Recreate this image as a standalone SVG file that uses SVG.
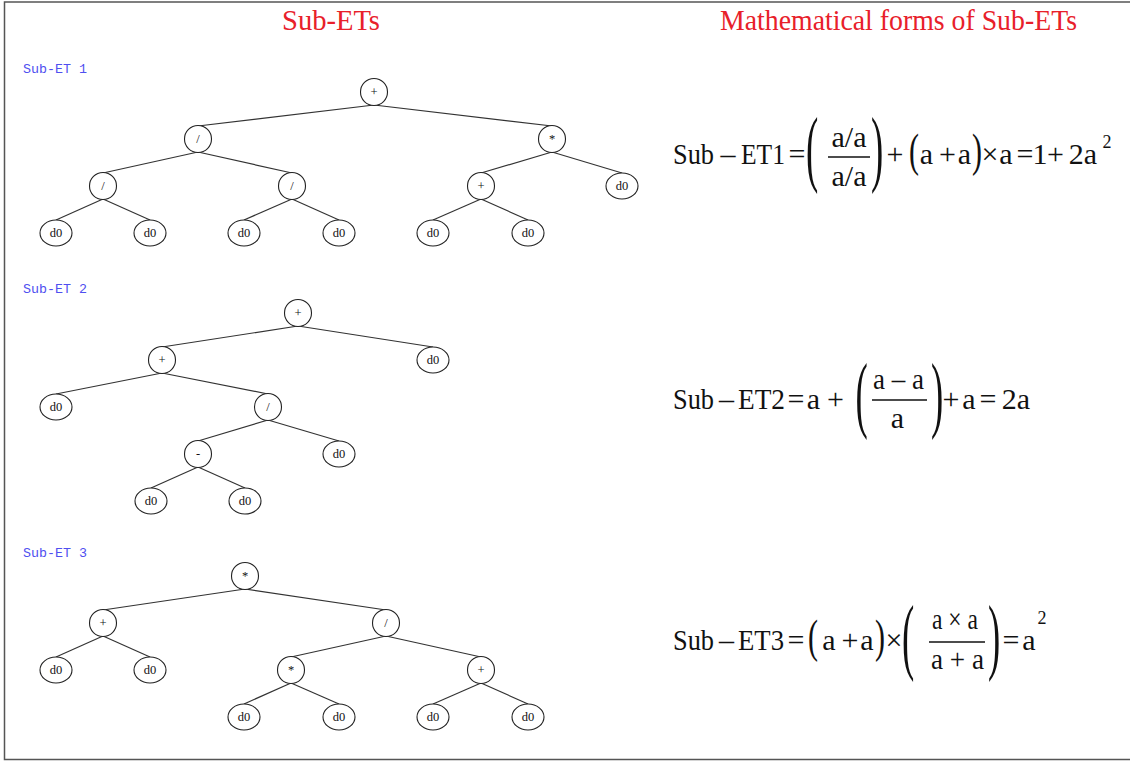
<svg xmlns="http://www.w3.org/2000/svg" width="1130" height="763" viewBox="0 0 1130 763">
<style>
.title{font-family:"Liberation Serif","Times New Roman",serif;font-size:29px;fill:#e8202a}
.lbl{font-family:"Liberation Mono","Courier New",monospace;font-size:12px;fill:#4f4ff0}
.op{fill:#fff;stroke:#222;stroke-width:1.1}
.nt{font-family:"Liberation Serif","Times New Roman",serif;font-size:12.5px;fill:#111;text-anchor:middle}
.edge{stroke:#333;stroke-width:1.2;fill:none}
.m{font-family:"Liberation Serif","Times New Roman",serif;font-size:30px;fill:#111}
.c{text-anchor:middle}
.sup{font-family:"Liberation Serif","Times New Roman",serif;font-size:18px;fill:#111;text-anchor:middle}
.bp{font-family:"Liberation Serif","Times New Roman",serif;font-size:32px;fill:#111;text-anchor:middle}
.bar{stroke:#111;stroke-width:1.3}
</style>
<path d="M1131,2 H4.5 V759.5 H1131" fill="none" stroke="#555" stroke-width="1.5"/>
<text class="title" x="282" y="30" textLength="98" lengthAdjust="spacingAndGlyphs">Sub-ETs</text>
<text class="title" x="720" y="30" textLength="357" lengthAdjust="spacingAndGlyphs">Mathematical forms of Sub-ETs</text>
<text class="lbl" x="23" y="73" textLength="64" lengthAdjust="spacingAndGlyphs">Sub-ET 1</text>
<text class="lbl" x="23" y="293" textLength="64" lengthAdjust="spacingAndGlyphs">Sub-ET 2</text>
<text class="lbl" x="23" y="557" textLength="64" lengthAdjust="spacingAndGlyphs">Sub-ET 3</text>
<g id="connectors" class="edge">
<line x1="374" y1="105" x2="198" y2="126"/><line x1="374" y1="105" x2="552" y2="126"/>
<line x1="198" y1="152" x2="103" y2="173"/><line x1="198" y1="152" x2="292" y2="173"/>
<line x1="552" y1="152" x2="481" y2="173"/><line x1="552" y1="152" x2="622" y2="173"/>
<line x1="103" y1="199" x2="56" y2="220"/><line x1="103" y1="199" x2="150" y2="220"/>
<line x1="292" y1="199" x2="244" y2="220"/><line x1="292" y1="199" x2="339" y2="220"/>
<line x1="481" y1="199" x2="433" y2="220"/><line x1="481" y1="199" x2="528" y2="220"/>
<line x1="298" y1="326" x2="162" y2="347"/><line x1="298" y1="326" x2="433" y2="347"/>
<line x1="162" y1="373" x2="56" y2="394"/><line x1="162" y1="373" x2="268" y2="394"/>
<line x1="268" y1="420" x2="198" y2="441"/><line x1="268" y1="420" x2="339" y2="441"/>
<line x1="198" y1="467" x2="151" y2="488"/><line x1="198" y1="467" x2="245" y2="488"/>
<line x1="245" y1="589" x2="103" y2="610"/><line x1="245" y1="589" x2="386" y2="610"/>
<line x1="103" y1="636" x2="56" y2="657"/><line x1="103" y1="636" x2="150" y2="657"/>
<line x1="386" y1="636" x2="291" y2="657"/><line x1="386" y1="636" x2="481" y2="657"/>
<line x1="291" y1="683" x2="244" y2="704"/><line x1="291" y1="683" x2="339" y2="704"/>
<line x1="481" y1="683" x2="433" y2="704"/><line x1="481" y1="683" x2="528" y2="704"/>
</g>
<g id="t1n0"><ellipse class="op" cx="374" cy="92" rx="13.5" ry="13.5"/><text class="nt" x="374" y="96">+</text></g>
<g id="t1n1"><ellipse class="op" cx="198" cy="139" rx="13.5" ry="13.5"/><text class="nt" x="198" y="143">/</text></g>
<g id="t1n2"><ellipse class="op" cx="552" cy="139" rx="13.5" ry="13.5"/><text class="nt" x="552" y="143">*</text></g>
<g id="t1n3"><ellipse class="op" cx="103" cy="186" rx="13.5" ry="13.5"/><text class="nt" x="103" y="190">/</text></g>
<g id="t1n4"><ellipse class="op" cx="292" cy="186" rx="13.5" ry="13.5"/><text class="nt" x="292" y="190">/</text></g>
<g id="t1n5"><ellipse class="op" cx="481" cy="186" rx="13.5" ry="13.5"/><text class="nt" x="481" y="190">+</text></g>
<g id="t1n6"><ellipse class="op" cx="622" cy="186" rx="16" ry="13"/><text class="nt" x="622" y="190">d0</text></g>
<g id="t1n7"><ellipse class="op" cx="56" cy="233" rx="16" ry="13"/><text class="nt" x="56" y="237">d0</text></g>
<g id="t1n8"><ellipse class="op" cx="150" cy="233" rx="16" ry="13"/><text class="nt" x="150" y="237">d0</text></g>
<g id="t1n9"><ellipse class="op" cx="244" cy="233" rx="16" ry="13"/><text class="nt" x="244" y="237">d0</text></g>
<g id="t1n10"><ellipse class="op" cx="339" cy="233" rx="16" ry="13"/><text class="nt" x="339" y="237">d0</text></g>
<g id="t1n11"><ellipse class="op" cx="433" cy="233" rx="16" ry="13"/><text class="nt" x="433" y="237">d0</text></g>
<g id="t1n12"><ellipse class="op" cx="528" cy="233" rx="16" ry="13"/><text class="nt" x="528" y="237">d0</text></g>
<g id="t2n0"><ellipse class="op" cx="298" cy="313" rx="13.5" ry="13.5"/><text class="nt" x="298" y="317">+</text></g>
<g id="t2n1"><ellipse class="op" cx="162" cy="360" rx="13.5" ry="13.5"/><text class="nt" x="162" y="364">+</text></g>
<g id="t2n2"><ellipse class="op" cx="433" cy="360" rx="16" ry="13"/><text class="nt" x="433" y="364">d0</text></g>
<g id="t2n3"><ellipse class="op" cx="56" cy="407" rx="16" ry="13"/><text class="nt" x="56" y="411">d0</text></g>
<g id="t2n4"><ellipse class="op" cx="268" cy="407" rx="13.5" ry="13.5"/><text class="nt" x="268" y="411">/</text></g>
<g id="t2n5"><ellipse class="op" cx="198" cy="454" rx="13.5" ry="13.5"/><text class="nt" x="198" y="458">-</text></g>
<g id="t2n6"><ellipse class="op" cx="339" cy="454" rx="16" ry="13"/><text class="nt" x="339" y="458">d0</text></g>
<g id="t2n7"><ellipse class="op" cx="151" cy="501" rx="16" ry="13"/><text class="nt" x="151" y="505">d0</text></g>
<g id="t2n8"><ellipse class="op" cx="245" cy="501" rx="16" ry="13"/><text class="nt" x="245" y="505">d0</text></g>
<g id="t3n0"><ellipse class="op" cx="245" cy="576" rx="13.5" ry="13.5"/><text class="nt" x="245" y="580">*</text></g>
<g id="t3n1"><ellipse class="op" cx="103" cy="623" rx="13.5" ry="13.5"/><text class="nt" x="103" y="627">+</text></g>
<g id="t3n2"><ellipse class="op" cx="386" cy="623" rx="13.5" ry="13.5"/><text class="nt" x="386" y="627">/</text></g>
<g id="t3n3"><ellipse class="op" cx="56" cy="670" rx="16" ry="13"/><text class="nt" x="56" y="674">d0</text></g>
<g id="t3n4"><ellipse class="op" cx="150" cy="670" rx="16" ry="13"/><text class="nt" x="150" y="674">d0</text></g>
<g id="t3n5"><ellipse class="op" cx="291" cy="670" rx="13.5" ry="13.5"/><text class="nt" x="291" y="674">*</text></g>
<g id="t3n6"><ellipse class="op" cx="481" cy="670" rx="13.5" ry="13.5"/><text class="nt" x="481" y="674">+</text></g>
<g id="t3n7"><ellipse class="op" cx="244" cy="717" rx="16" ry="13"/><text class="nt" x="244" y="721">d0</text></g>
<g id="t3n8"><ellipse class="op" cx="339" cy="717" rx="16" ry="13"/><text class="nt" x="339" y="721">d0</text></g>
<g id="t3n9"><ellipse class="op" cx="433" cy="717" rx="16" ry="13"/><text class="nt" x="433" y="721">d0</text></g>
<g id="t3n10"><ellipse class="op" cx="528" cy="717" rx="16" ry="13"/><text class="nt" x="528" y="721">d0</text></g>
<g id="formula1">
<text class="m" x="673" y="164" textLength="41" lengthAdjust="spacingAndGlyphs">Sub</text>
<text class="m c" x="728" y="164">–</text>
<text class="m" x="741" y="164" textLength="44" lengthAdjust="spacingAndGlyphs">ET1</text>
<text class="m c" x="797" y="164">=</text>
<text class="bp" transform="translate(812,176.3) scale(1.15,2.65)">(</text>
<text class="m c" x="849" y="147">a/a</text>
<line class="bar" x1="828" y1="157" x2="870" y2="157"/>
<text class="m c" x="849" y="186">a/a</text>
<text class="bp" transform="translate(877,176.3) scale(1.15,2.65)">)</text>
<text class="m c" x="895" y="164">+</text>
<text class="m c" transform="translate(914,166.4) scale(1,1.55)">(</text>
<text class="m c" x="926.5" y="164">a</text>
<text class="m c" x="947.5" y="164">+</text>
<text class="m c" x="964.5" y="164">a</text>
<text class="m c" transform="translate(977,166.4) scale(1,1.55)">)</text>
<text class="m c" x="990" y="164">×</text>
<text class="m c" x="1006" y="164">a</text>
<text class="m c" x="1025" y="164">=</text>
<text class="m c" x="1040" y="164">1</text>
<text class="m c" x="1055.5" y="164">+</text>
<text class="m c" x="1083" y="164">2a</text>
<text class="sup" x="1107" y="148">2</text>
</g>
<g id="formula2">
<text class="m" x="673" y="409" textLength="41" lengthAdjust="spacingAndGlyphs">Sub</text>
<text class="m c" x="726.5" y="409">–</text>
<text class="m" x="738" y="409" textLength="47" lengthAdjust="spacingAndGlyphs">ET2</text>
<text class="m c" x="796" y="409">=</text>
<text class="m c" x="813.5" y="409">a</text>
<text class="m c" x="835.5" y="409">+</text>
<text class="bp" transform="translate(861.5,422.3) scale(1.15,2.65)">(</text>
<text class="m" x="873" y="389" textLength="51" lengthAdjust="spacingAndGlyphs">a – a</text>
<line class="bar" x1="872" y1="400" x2="927" y2="400"/>
<text class="m c" x="897.5" y="428">a</text>
<text class="bp" transform="translate(937,422.3) scale(1.15,2.65)">)</text>
<text class="m c" x="951" y="409">+</text>
<text class="m c" x="969" y="409">a</text>
<text class="m c" x="988" y="409">=</text>
<text class="m c" x="1016" y="409">2a</text>
</g>
<g id="formula3">
<text class="m" x="673" y="650" textLength="41" lengthAdjust="spacingAndGlyphs">Sub</text>
<text class="m c" x="726.5" y="650">–</text>
<text class="m" x="738" y="650" textLength="46" lengthAdjust="spacingAndGlyphs">ET3</text>
<text class="m c" x="796" y="650">=</text>
<text class="m c" transform="translate(813,652.4) scale(1,1.55)">(</text>
<text class="m c" x="829" y="650">a</text>
<text class="m c" x="850" y="650">+</text>
<text class="m c" x="867" y="650">a</text>
<text class="m c" transform="translate(880,652.4) scale(1,1.55)">)</text>
<text class="m c" x="894" y="650">×</text>
<text class="bp" transform="translate(908,663.8) scale(1.15,2.65)">(</text>
<text class="m" x="932" y="629" textLength="46" lengthAdjust="spacingAndGlyphs">a × a</text>
<line class="bar" x1="929" y1="642" x2="985" y2="642"/>
<text class="m" x="931" y="669" textLength="53" lengthAdjust="spacingAndGlyphs">a + a</text>
<text class="bp" transform="translate(994,663.8) scale(1.15,2.65)">)</text>
<text class="m c" x="1011" y="650">=</text>
<text class="m c" x="1029" y="650">a</text>
<text class="sup" x="1042" y="624">2</text>
</g>
</svg>
